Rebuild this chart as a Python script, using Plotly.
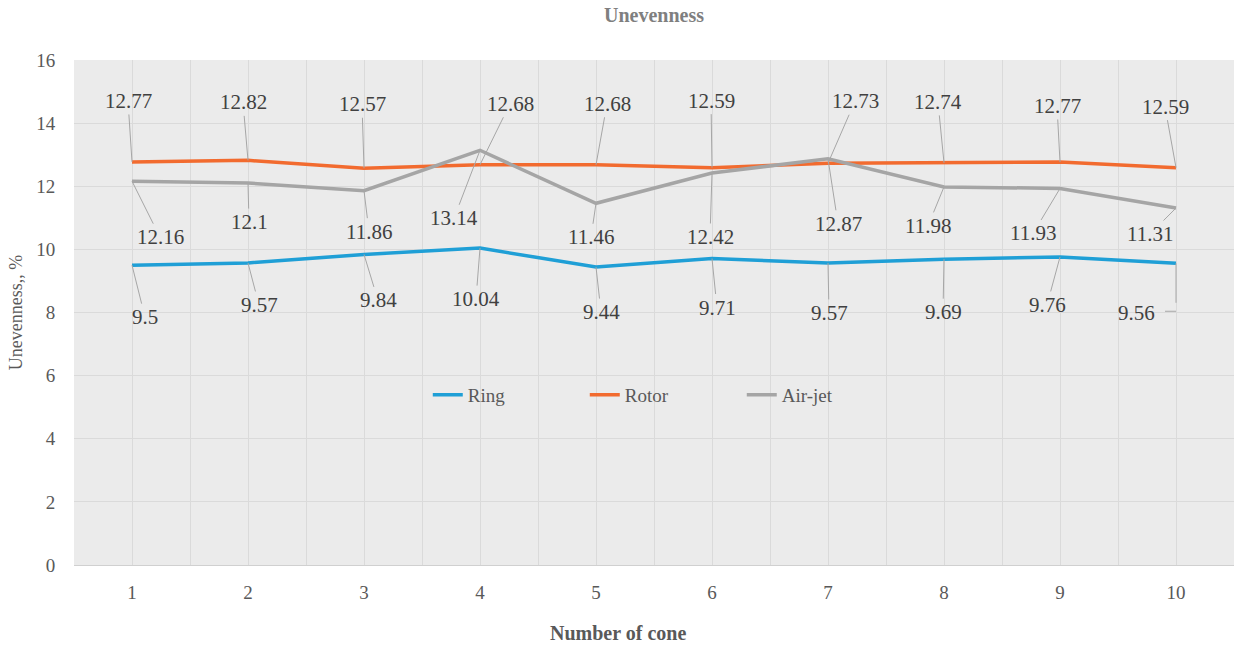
import plotly.graph_objects as go

# Unevenness (%) of yarn for ten cones, three spinning systems
cones = [1, 2, 3, 4, 5, 6, 7, 8, 9, 10]
ring = [9.5, 9.57, 9.84, 10.04, 9.44, 9.71, 9.57, 9.69, 9.76, 9.56]
rotor = [12.77, 12.82, 12.57, 12.68, 12.68, 12.59, 12.73, 12.74, 12.77, 12.59]
airjet = [12.16, 12.1, 11.86, 13.14, 11.46, 12.42, 12.87, 11.98, 11.93, 11.31]
y_ticks = [0, 2, 4, 6, 8, 10, 12, 14, 16]

SERIF = "Liberation Serif"
LEADER = "#a6a6a6"

# pixel offsets (dx, dy) of each data label from its point
rotor_off = [(-4, -61), (-5, -58), (-2, -64), (30, -61), (11, -61),
             (-1, -67), (27, -62), (-6, -61), (-3, -56), (-11, -61)]
airjet_off = [(28, 56), (1, 39), (5, 41), (-26, 68), (-5, 34),
              (-2, 64), (10, 65), (-16, 39), (-27, 45), (-26, 26)]
ring_off = [(13, 52), (11, 42), (14, 46), (-4, 51), (5, 45),
            (5, 49), (1, 50), (-1, 53), (-13, 48), None]

fig = go.Figure()
series = [("Ring", ring, "#1f9fd6"), ("Rotor", rotor, "#f26b2f"), ("Air-jet", airjet, "#a5a5a5")]
for name, vals, col in series:
    fig.add_trace(go.Scatter(x=cones, y=vals, name=name, mode="lines",
                             line=dict(color=col, width=3.5)))

label_font = dict(family=SERIF, size=21, color="#404040")
annotations = []
for vals, offs in [(rotor, rotor_off), (airjet, airjet_off), (ring, ring_off)]:
    for c, v, off in zip(cones, vals, offs):
        if off is None:
            continue
        annotations.append(dict(
            x=c, y=v, xref="x", yref="y", text=str(v),
            showarrow=True, ax=off[0], ay=off[1], axref="pixel", ayref="pixel",
            arrowhead=0, arrowwidth=1, arrowcolor=LEADER, standoff=0,
            font=label_font))

# last ring label sits below-left of its point with an elbow leader
annotations.append(dict(x=cones[-1], y=ring[-1], xref="x", yref="y", text=str(ring[-1]),
                        showarrow=False, xshift=-40, yshift=-50, font=label_font))
annotations.append(dict(x=cones[-1], y=ring[-1], xref="x", yref="y", text=" ",
                        showarrow=True, ax=0, ay=48, arrowhead=0, arrowwidth=1,
                        arrowcolor=LEADER, standoff=0))
annotations.append(dict(x=cones[-1], y=ring[-1], xref="x", yref="y", text=" ",
                        showarrow=True, ax=-14, ay=0, yshift=-48, arrowhead=0,
                        arrowwidth=1, arrowcolor=LEADER, standoff=0))

# x-axis title, centred on the whole chart rather than the plot area
annotations.append(dict(x=(618 - 74) / 1160, y=-(633 - 565) / 505, xref="paper", yref="paper",
                        yanchor="middle", text="<b>Number of cone</b>", showarrow=False,
                        font=dict(family=SERIF, size=20, color="#595959")))

fig.update_layout(
    width=1236, height=646,
    margin=dict(l=74, r=2, t=60, b=81),
    paper_bgcolor="white", plot_bgcolor="#ebebeb",
    font=dict(family=SERIF, color="#595959"),
    title=dict(text="<b>Unevenness</b>", x=0.5, xanchor="center", xref="paper",
               y=0.977, yanchor="middle",
               font=dict(family=SERIF, size=20, color="#7f7f7f")),
    showlegend=True,
    legend=dict(orientation="h", x=0.508, xanchor="center", y=0.337, yanchor="middle",
                bgcolor="rgba(0,0,0,0)", font=dict(family=SERIF, size=19, color="#595959"),
                entrywidth=112, entrywidthmode="pixels"),
    annotations=annotations,
)

fig.update_xaxes(
    range=[0.5, 10.5], tickvals=cones, ticktext=[str(c) for c in cones],
    showgrid=True, gridcolor="#dadada", gridwidth=1, zeroline=False,
    minor=dict(tick0=0.5, dtick=1, showgrid=True, gridcolor="#dadada", gridwidth=1),
    showline=True, linecolor="#d0d0d0", linewidth=1,
    ticks="outside", ticklen=10, tickcolor="rgba(0,0,0,0)",
    tickfont=dict(family=SERIF, size=19, color="#595959"),
)
fig.update_yaxes(
    range=[0, 16], tickvals=y_ticks, showgrid=True, gridcolor="#dadada", gridwidth=1,
    zeroline=False, ticks="outside", ticklen=14, tickcolor="rgba(0,0,0,0)",
    tickfont=dict(family=SERIF, size=19, color="#595959"),
    title=dict(text="Unevenness,, %", standoff=8,
               font=dict(family=SERIF, size=18, color="#595959")),
)

fig.write_html("out.html")
